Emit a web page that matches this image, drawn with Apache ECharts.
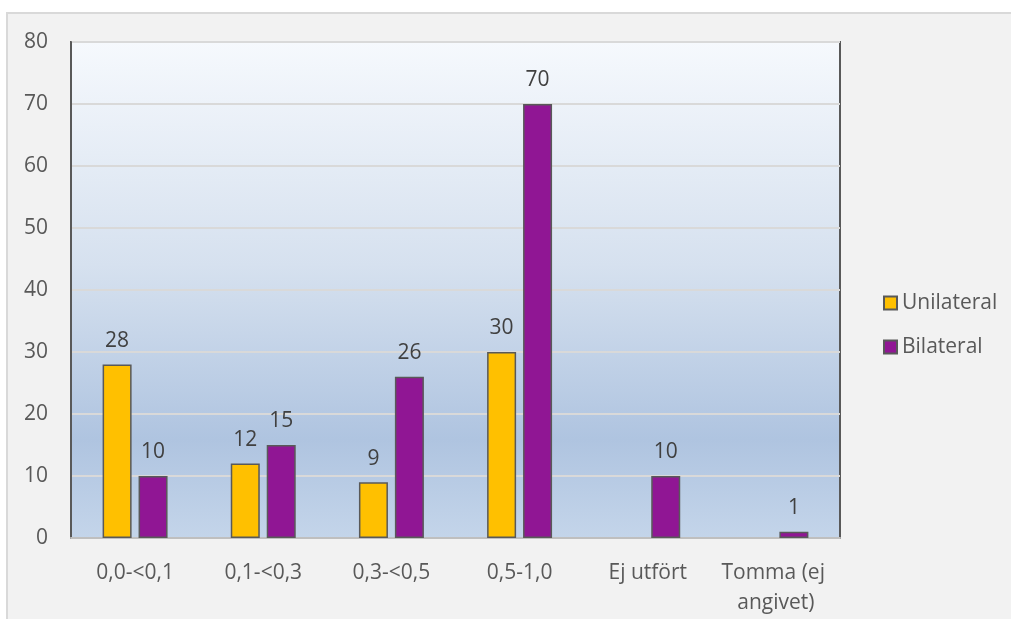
<!DOCTYPE html>
<html>
<head>
<meta charset="utf-8">
<script src="https://cdn.jsdelivr.net/npm/echarts@6/dist/echarts.min.js"></script>
<style>
html,body{margin:0;padding:0;background:#ffffff;}
#chart{width:1011px;height:619px;}
</style>
</head>
<body>
<div id="chart"></div>
<script>
var categories = ['0,0-<0,1', '0,1-<0,3', '0,3-<0,5', '0,5-1,0', 'Ej utfört', 'Tomma (ej angivet)'];
var unilateral = [28, 12, 9, 30, null, null];
var bilateral = [10, 15, 26, 70, 10, 1];
var yTicks = [0, 10, 20, 30, 40, 50, 60, 70, 80];

var chart = echarts.init(document.getElementById('chart'), null, {renderer: 'canvas'});
var FONT = 'Open Sans';
var labelStyle = {show: true, position: 'top', distance: 13, color: '#404040', fontSize: 21, fontFamily: FONT};

chart.setOption({
  animation: false,
  backgroundColor: '#ffffff',
  graphic: [{
    type: 'rect', z: -10, silent: true,
    shape: {x: 7, y: 13, width: 1010, height: 620},
    style: {fill: '#f2f2f2', stroke: '#d9d9d9', lineWidth: 2}
  }],
  grid: {
    left: 71, right: 171, top: 42, bottom: 81,
    show: true,
    borderColor: '#595959', borderWidth: 2,
    backgroundColor: new echarts.graphic.LinearGradient(0, 0, 0, 1, [
      {offset: 0, color: '#f6f9fd'},
      {offset: 0.45, color: '#d6e1ef'},
      {offset: 0.8, color: '#afc4e0'},
      {offset: 1, color: '#c4d5ea'}
    ])
  },
  legend: {
    orient: 'vertical',
    left: 878, top: 286,
    itemWidth: 13, itemHeight: 13, itemGap: 20,
    icon: 'rect',
    textStyle: {color: '#595959', fontSize: 21, fontFamily: FONT, lineHeight: 24},
    data: ['Unilateral', 'Bilateral']
  },
  xAxis: {
    type: 'category',
    data: categories,
    axisLine: {lineStyle: {color: '#bfbfbf', width: 2}},
    axisTick: {show: false},
    axisLabel: {
      color: '#595959', fontSize: 21, fontFamily: FONT, margin: 20,
      interval: 0, width: 122, overflow: 'break', lineHeight: 30
    }
  },
  yAxis: {
    type: 'value',
    min: yTicks[0], max: yTicks[yTicks.length - 1], interval: 10,
    axisLine: {show: true, lineStyle: {color: '#595959', width: 2}},
    axisTick: {show: false},
    axisLabel: {color: '#595959', fontSize: 21, fontFamily: FONT, margin: 23},
    splitLine: {lineStyle: {color: '#d9d9d9', width: 2}}
  },
  series: [
    {
      name: 'Unilateral', type: 'bar', data: unilateral,
      barWidth: 29, barGap: '24%',
      itemStyle: {color: '#ffc000', borderColor: '#595959', borderWidth: 1.5},
      label: labelStyle
    },
    {
      name: 'Bilateral', type: 'bar', data: bilateral,
      barWidth: 29, barGap: '24%',
      itemStyle: {color: '#901694', borderColor: '#595959', borderWidth: 1.5},
      label: labelStyle
    }
  ]
});
</script>
</body>
</html>
